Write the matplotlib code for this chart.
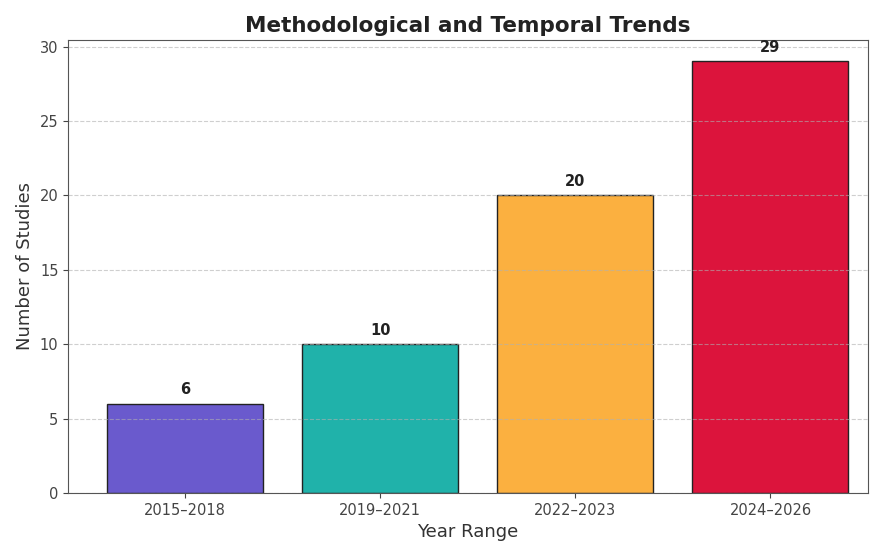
import matplotlib
matplotlib.use("Agg")
import matplotlib.pyplot as plt

ranges = ["2015–2018", "2019–2021", "2022–2023", "2024–2026"]
counts = [6, 10, 20, 29]
colors = ["#6a5acd", "#20b2aa", "#fbb040", "#dc143c"]

plt.rcParams["text.color"] = "#222222"
plt.rcParams["axes.labelcolor"] = "#333333"
plt.rcParams["xtick.color"] = "#444444"
plt.rcParams["ytick.color"] = "#444444"

fig, ax = plt.subplots(figsize=(8.75, 5.46), dpi=100)
bars = ax.bar(ranges, counts, color=colors, edgecolor="#222222", width=0.8)

for b, v in zip(bars, counts):
    ax.text(b.get_x() + b.get_width() / 2, v + 0.45, str(v),
            ha="center", va="bottom", fontsize=10.5, fontweight="bold")

ax.set_title("Methodological and Temporal Trends", fontsize=15.5, fontweight="bold")
ax.set_xlabel("Year Range", fontsize=13)
ax.set_ylabel("Number of Studies", fontsize=13)
ax.tick_params(labelsize=10.5)
ax.set_ylim(0, 30.45)
ax.set_xlim(-0.6, 3.5)
ax.grid(axis="y", linestyle="--", alpha=0.6)
for s in ax.spines.values():
    s.set_color("#555555")

fig.subplots_adjust(left=0.078, right=0.992, top=0.927, bottom=0.097)
fig.savefig("out.png")
